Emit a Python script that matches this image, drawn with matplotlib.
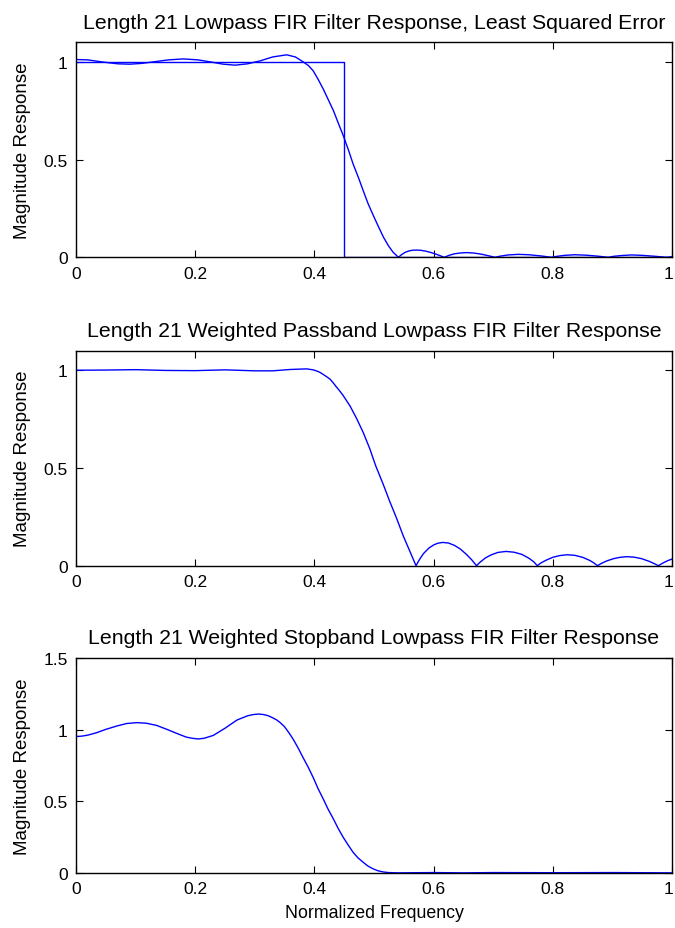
import matplotlib
matplotlib.use("Agg")
import matplotlib.pyplot as plt
from matplotlib.transforms import ScaledTranslation

plt.rcParams['font.family'] = ['Liberation Sans', 'DejaVu Sans']

# ideal lowpass (top plot)
ideal_f = [0, 0.45, 0.45, 1.0]
ideal_m = [1, 1, 0, 0]

# least squared error design
ls_f = [0, 0.02, 0.045, 0.07, 0.09, 0.11, 0.13, 0.155, 0.18, 0.205, 0.225, 0.247,
        0.267, 0.288, 0.309, 0.33, 0.3535, 0.368, 0.375, 0.381, 0.39, 0.398, 0.406,
        0.415, 0.423, 0.432, 0.44, 0.4485, 0.457, 0.465, 0.474, 0.482, 0.49, 0.499,
        0.507, 0.516, 0.524, 0.532, 0.541,
        0.546, 0.552, 0.558, 0.564, 0.571, 0.578, 0.586, 0.595, 0.605, 0.612, 0.618,
        0.625, 0.635, 0.645, 0.655, 0.667, 0.68, 0.692, 0.703,
        0.712, 0.725, 0.742, 0.76, 0.78, 0.798,
        0.807, 0.82, 0.837, 0.855, 0.875, 0.893,
        0.902, 0.915, 0.932, 0.95, 0.972, 0.991, 1.0]
ls_m = [1.012, 1.010, 0.999, 0.990, 0.988, 0.992, 1.000, 1.010, 1.015, 1.010, 1.000, 0.988,
        0.983, 0.990, 1.005, 1.025, 1.036, 1.025, 1.012, 1.000, 0.981, 0.954, 0.912,
        0.860, 0.808, 0.750, 0.687, 0.622, 0.550, 0.477, 0.407, 0.340, 0.275, 0.213,
        0.160, 0.102, 0.060, 0.026, 0.0,
        0.013, 0.025, 0.032, 0.036, 0.037, 0.036, 0.032, 0.025, 0.015, 0.007, 0.0,
        0.009, 0.018, 0.022, 0.024, 0.022, 0.016, 0.008, 0.0,
        0.006, 0.012, 0.015, 0.013, 0.007, 0.0,
        0.005, 0.010, 0.013, 0.011, 0.006, 0.0,
        0.005, 0.009, 0.012, 0.010, 0.005, 0.0, 0.003]

# weighted passband design
wp_f = [0, 0.05, 0.1, 0.15, 0.2, 0.25, 0.3, 0.33, 0.36, 0.387, 0.398, 0.405, 0.41,
        0.415, 0.42, 0.426, 0.431, 0.436, 0.442, 0.448, 0.46, 0.471, 0.482, 0.493,
        0.503, 0.515, 0.526, 0.538, 0.549, 0.56, 0.5705,
        0.576, 0.583, 0.592, 0.6, 0.607, 0.6153, 0.625, 0.635, 0.645, 0.655, 0.664, 0.672,
        0.678, 0.687, 0.697, 0.708, 0.7215, 0.735, 0.748, 0.76, 0.768, 0.774,
        0.78, 0.79, 0.8, 0.812, 0.8244, 0.837, 0.85, 0.862, 0.869, 0.875,
        0.881, 0.891, 0.902, 0.913, 0.924, 0.936, 0.949, 0.962, 0.97, 0.977,
        0.985, 0.993, 1.0]
wp_m = [1.000, 1.001, 1.003, 0.999, 0.998, 1.002, 0.997, 0.997, 1.004, 1.007, 1.002, 0.995, 0.988,
        0.978, 0.968, 0.955, 0.938, 0.918, 0.896, 0.872, 0.816, 0.752, 0.681, 0.598,
        0.510, 0.420, 0.332, 0.242, 0.153, 0.075, 0.0,
        0.030, 0.062, 0.090, 0.106, 0.115, 0.119, 0.116, 0.104, 0.085, 0.058, 0.030, 0.0,
        0.018, 0.040, 0.056, 0.068, 0.073, 0.069, 0.058, 0.038, 0.020, 0.0,
        0.014, 0.030, 0.043, 0.052, 0.056, 0.053, 0.043, 0.027, 0.014, 0.0,
        0.011, 0.025, 0.036, 0.043, 0.046, 0.044, 0.036, 0.022, 0.011, 0.0,
        0.014, 0.026, 0.034]

# weighted stopband design
ws_f = [0, 0.01, 0.02, 0.0347, 0.05, 0.068, 0.085, 0.102, 0.118, 0.135, 0.152, 0.169,
        0.185, 0.195, 0.205, 0.215, 0.2304, 0.25, 0.27, 0.288, 0.297, 0.306, 0.314,
        0.322, 0.329, 0.337, 0.343, 0.35, 0.357, 0.3646, 0.373, 0.381, 0.39, 0.398,
        0.406, 0.415, 0.423, 0.432, 0.44, 0.4485, 0.457, 0.465, 0.473, 0.482, 0.49,
        0.499, 0.507, 0.516, 0.524, 0.532, 0.54,
        0.6, 0.65, 0.7, 0.8, 0.9, 1.0]
ws_m = [0.952, 0.955, 0.962, 0.979, 1.002, 1.025, 1.043, 1.049, 1.045, 1.030, 1.003, 0.974,
        0.948, 0.940, 0.935, 0.940, 0.960, 1.010, 1.067, 1.097, 1.105, 1.109, 1.106,
        1.098, 1.085, 1.067, 1.048, 1.020, 0.980, 0.932, 0.870, 0.805, 0.735, 0.666,
        0.590, 0.515, 0.445, 0.376, 0.310, 0.248, 0.193, 0.144, 0.106, 0.074, 0.048,
        0.028, 0.015, 0.007, 0.003, 0.002, 0.001,
        0.003, 0.001, 0.003, 0.002, 0.003, 0.001]

titles = ["Length 21 Lowpass FIR Filter Response, Least Squared Error",
          "Length 21 Weighted Passband Lowpass FIR Filter Response",
          "Length 21 Weighted Stopband Lowpass FIR Filter Response"]
ylims = [1.1, 1.1, 1.5]
yticks = [[0, 0.5, 1], [0, 0.5, 1], [0, 0.5, 1, 1.5]]
xticks = [0, 0.2, 0.4, 0.6, 0.8, 1]

fig = plt.figure(figsize=(6.75, 9.29), dpi=100)
W, H = 675, 929
left, right = 76, 672
tops = [43.3, 351.7, 659]
ah = 215

axes = []
for top in tops:
    ax = fig.add_axes([left / W, 1 - (top + ah) / H, (right - left) / W, ah / H])
    axes.append(ax)

blue = '#0000ff'
axes[0].plot(ideal_f, ideal_m, color=blue, lw=1.0)
axes[0].plot(ls_f, ls_m, color=blue, lw=1.0)
axes[1].plot(wp_f, wp_m, color=blue, lw=1.0)
axes[2].plot(ws_f, ws_m, color=blue, lw=1.0)

for ax, t, yl, yt in zip(axes, titles, ylims, yticks):
    ax.set_xlim(0, 1)
    ax.set_ylim(0, yl)
    ax.set_xticks(xticks)
    ax.set_xticklabels(['0', '0.2', '0.4', '0.6', '0.8', '1'])
    ax.set_yticks(yt)
    ax.set_yticklabels([('%g' % v) for v in yt])
    ax.tick_params(direction='in', top=True, right=True, length=5, width=0.8,
                   labelsize=12.5, pad=6)
    for s in ax.spines.values():
        s.set_linewidth(1.0)
    ax.set_title(t, fontsize=15.3, pad=10.5)
    ax.set_ylabel("Magnitude Response", fontsize=13.5)
    ax.yaxis.set_label_coords(-0.075, 0.5)
    # keep the last "1" inside the figure edge
    lab = ax.get_xticklabels()[-1]
    lab.set_transform(lab.get_transform() + ScaledTranslation(-2.5 / 72, 0, fig.dpi_scale_trans))

axes[2].set_xlabel("Normalized Frequency", fontsize=12.8, labelpad=5.5)

fig.savefig("out.png", dpi=100)
